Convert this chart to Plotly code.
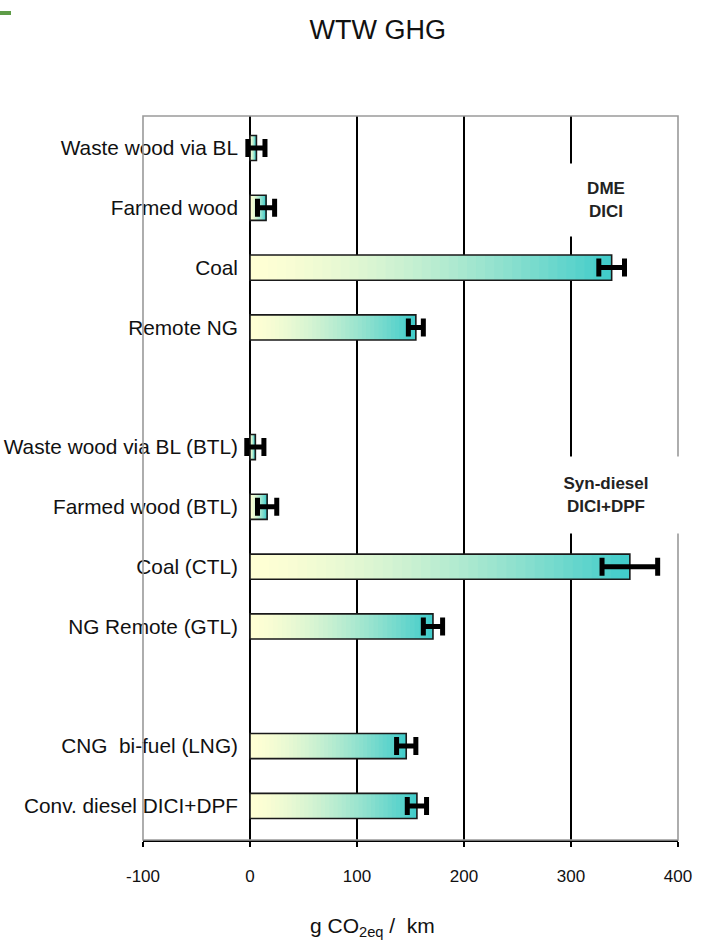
import plotly.graph_objects as go

# Pathways (None marks a spacer row between fuel groups)
pathways = [
    "Waste wood via BL", "Farmed wood", "Coal", "Remote NG",
    None,
    "Waste wood via BL (BTL)", "Farmed wood (BTL)", "Coal (CTL)", "NG Remote (GTL)",
    None,
    "CNG  bi-fuel (LNG)", "Conv. diesel DICI+DPF",
]
# Well-to-wheels GHG, g CO2eq/km, and the +/- range
ghg = [6, 15, 338, 155, 5, 16, 355, 171, 146, 156]
ghg_err = [8, 8, 12, 7, 8, 9, 26, 9, 9, 9]

x_ticks = [-100, 0, 100, 200, 300, 400]

rows = [i for i, p in enumerate(pathways) if p is not None]
labels = [p for p in pathways if p is not None]

# Horizontal gradient fill: pale yellow -> turquoise along each bar
C0 = (255, 255, 212)
C1 = (62, 203, 202)
N = 40


def shade(t):
    t = t ** 1.5
    return "rgb(%d,%d,%d)" % tuple(round(a + (b - a) * t) for a, b in zip(C0, C1))


fig = go.Figure()
for k in range(N):
    f = k / N
    fig.add_trace(go.Bar(
        y=rows, x=[v * (1 - f) for v in ghg], base=[v * f for v in ghg],
        orientation="h", width=0.42,
        marker=dict(color=shade((k + 0.5) / N), line=dict(width=0)),
        showlegend=False, hoverinfo="skip",
    ))

# Outline and uncertainty range
fig.add_trace(go.Bar(
    y=rows, x=ghg, orientation="h", width=0.42,
    marker=dict(color="rgba(0,0,0,0)", line=dict(color="#1a1a1a", width=1.6)),
    error_x=dict(type="data", array=ghg_err, color="black", thickness=5, width=9),
    showlegend=False,
))

font = "Liberation Sans, Arial, sans-serif"

fig.update_layout(
    width=710, height=950,
    margin=dict(l=143, r=32, t=116, b=110, autoexpand=False),
    paper_bgcolor="white", plot_bgcolor="white",
    barmode="overlay",
    font=dict(family=font, color="#111"),
    title=dict(text="WTW GHG", x=0.532, xanchor="center", y=1 - 30 / 950, yanchor="middle",
               font=dict(family=font, size=27, color="#111")),
    xaxis=dict(
        range=[-100, 400], tickvals=x_ticks, ticktext=[str(t) for t in x_ticks],
        showgrid=True, gridcolor="black", gridwidth=1.6,
        zeroline=True, zerolinecolor="black", zerolinewidth=1.6,
        showline=True, linecolor="black", linewidth=2.2,
        ticks="outside", ticklen=5, tickwidth=2, tickcolor="black",
        ticklabelstandoff=14, automargin=False,
        tickfont=dict(size=17, color="#111"),
    ),
    yaxis=dict(
        range=[11.57, -0.535], anchor="free", position=0.2,
        tickvals=rows, ticktext=labels,
        showgrid=False, zeroline=False, showline=False, ticks="",
        ticklabelstandoff=12, automargin=False,
        tickfont=dict(size=20.8, color="#111"),
    ),
    shapes=[
        # grey frame around the plotting area
        dict(type="rect", xref="paper", yref="paper", x0=0, x1=1, y0=0, y1=1,
             line=dict(color="#9a9a9a", width=1.6), layer="above"),
        # green accent at the top-left corner
        dict(type="line", xref="paper", yref="paper",
             x0=-143 / 535, x1=-132 / 535, y0=(840 - 13) / 724, y1=(840 - 13) / 724,
             line=dict(color="#5e9c48", width=4)),
    ],
    annotations=[
        # x-axis title
        dict(text="g CO<sub>2eq</sub> /  km", xref="paper", yref="paper",
             x=(372 - 143) / 535, y=(840 - 927) / 724, xanchor="center", yanchor="middle",
             showarrow=False, font=dict(size=21, color="#111")),
        dict(text="<b>DME</b><br><b>DICI</b>", xref="paper", yref="paper",
             x=(606 - 143) / 535, y=(840 - 200) / 724, xanchor="center", yanchor="middle",
             showarrow=False, font=dict(size=17, color="#222"), bgcolor="white",
             width=110, height=70, align="center"),
        dict(text="<b>Syn-diesel</b><br><b>DICI+DPF</b>", xref="paper", yref="paper",
             x=(606 - 143) / 535, y=(840 - 495) / 724, xanchor="center", yanchor="middle",
             showarrow=False, font=dict(size=17, color="#222"), bgcolor="white",
             width=156, height=74, align="center"),
    ],
)

fig.write_html("out.html")
